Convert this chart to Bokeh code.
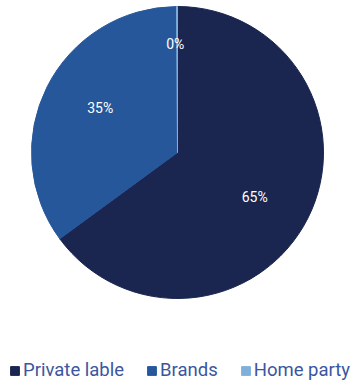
import math
from bokeh.plotting import figure
from bokeh.models import ColumnDataSource, Legend, LegendItem
from bokeh.core.properties import value
from bokeh.embed import file_html
from bokeh.resources import INLINE

categories = ["Private lable", "Brands", "Home party"]
shares = [65, 35, 0.1]
colors = ["#1a2650", "#27579b", "#7fb0dc"]

W, H = 354, 385
cx, cy, R = 177, H - 152, 146

total = sum(shares)
starts, ends, lx, ly, labels = [], [], [], [], []
cum = 0.0
for s in shares:
    a0 = math.pi / 2 - 2 * math.pi * cum / total
    cum += s
    a1 = math.pi / 2 - 2 * math.pi * cum / total
    starts.append(a0)
    ends.append(a1)
    frac = s / total
    big = frac > 0.05
    mid = (a0 + a1) / 2 - (math.radians(3) if big else -math.radians(1))
    rr = R * (0.61 if big else 0.74)
    lx.append(cx + rr * math.cos(mid))
    ly.append(cy + rr * math.sin(mid))
    labels.append(f"{round(frac * 100)}%")

src = ColumnDataSource(dict(cat=categories, start=starts, end=ends, color=colors,
                            lx=lx, ly=ly, label=labels))

p = figure(width=W, height=H, x_range=(0, W), y_range=(0, H),
           output_backend="svg", toolbar_location=None, min_border=0,
           outline_line_color=None)
p.axis.visible = False
p.grid.visible = False
p.background_fill_color = "white"

w = p.wedge(x=cx, y=cy, radius=R, start_angle="start", end_angle="end",
            direction="clock", fill_color="color", line_color="color",
            line_width=1, source=src)

p.text(x="lx", y="ly", text="label", source=src, text_color="white",
       text_font=value("Roboto"), text_font_size="14px",
       text_align="center", text_baseline="middle")

items = [LegendItem(label=c, renderers=[w], index=i) for i, c in enumerate(categories)]
legend = Legend(items=items, orientation="horizontal", location=(9, 4),
                glyph_width=11, glyph_height=11, label_standoff=3, spacing=22,
                padding=0, margin=0, border_line_color=None,
                background_fill_alpha=0,
                label_text_font="Roboto", label_text_font_size="18.5px",
                label_text_color="#3a56a0")
p.add_layout(legend)

open("out.html", "w").write(file_html(p, INLINE))
